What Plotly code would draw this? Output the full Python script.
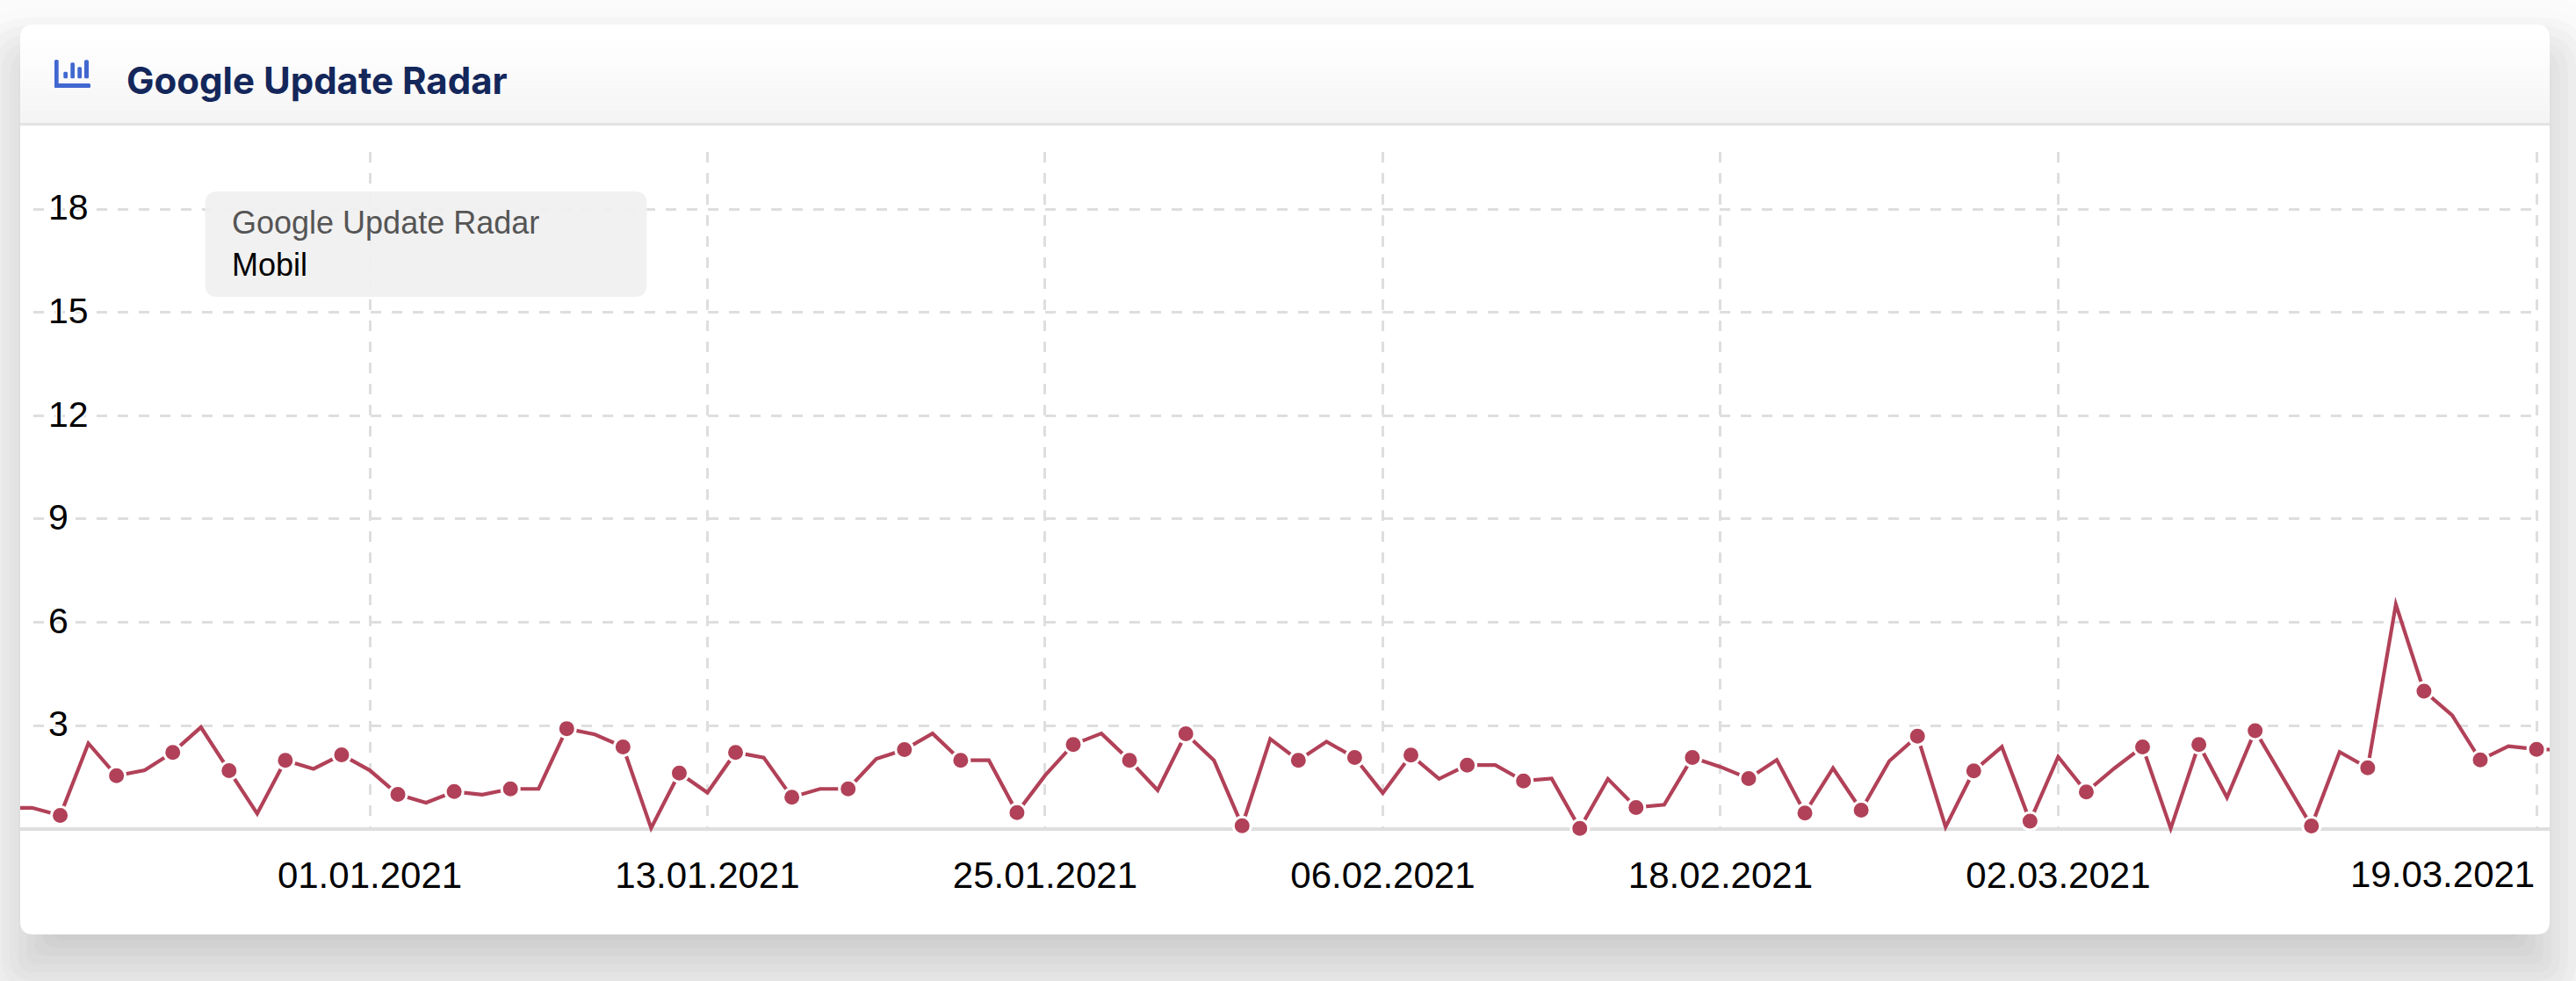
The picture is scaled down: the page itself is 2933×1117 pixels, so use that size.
import pandas as pd
import plotly.graph_objects as go

W, H = 2933, 1117

title_text = "Google Update Radar"
series_name = "Mobil"
start_date = "2020-12-19"
values = [
    0.61, 0.61, 0.39, 2.48, 1.54, 1.70, 2.22, 2.95, 1.69, 0.44, 1.99, 1.74, 2.15,
    1.70, 1.00, 0.76, 1.08, 0.99, 1.16, 1.16, 2.91, 2.74, 2.38, 0.02, 1.62, 1.05,
    2.22, 2.07, 0.92, 1.16, 1.16, 2.03, 2.30, 2.77, 1.99, 1.99, 0.47, 1.55, 2.45,
    2.77, 1.99, 1.12, 2.76, 1.99, 0.09, 2.61, 1.99, 2.53, 2.07, 1.04, 2.14, 1.45,
    1.85, 1.85, 1.39, 1.46, 0.01, 1.45, 0.62, 0.70, 2.07, 1.80, 1.46, 2.00, 0.46,
    1.76, 0.54, 1.97, 2.69, 0.05, 1.68, 2.38, 0.22, 2.09, 1.07, 1.76, 2.38, 0.01,
    2.45, 0.91, 2.85, 1.46, 0.08, 2.23, 1.77, 6.52, 4.00, 3.30, 2.00, 2.40, 2.31,
    2.29,
]
x_tick_dates = ["2021-01-01", "2021-01-13", "2021-01-25", "2021-02-06",
                "2021-02-18", "2021-03-02", "2021-03-19"]
x_tick_labels = ["01.01.2021", "13.01.2021", "25.01.2021", "06.02.2021",
                 "18.02.2021", "02.03.2021", "19.03.2021"]
y_ticks = [3, 6, 9, 12, 15, 18]

dates = pd.date_range(start_date, periods=len(values))

LINE = "#b14158"
GRID = "#dedede"

# pixel helpers (margins are zero so paper coordinates cover the full figure)
def fx(p):
    return p / W
def fy(p):
    return 1 - p / H

# axis calibration
JAN1_PX, DAY_PX = 421.0, 32.04
ZERO_PX, UNIT_PX = 943.7, 39.2
def date_at(p):
    return pd.Timestamp("2021-01-01") + pd.Timedelta(days=(p - JAN1_PX) / DAY_PX)
def val_at(p):
    return (ZERO_PX - p) / UNIT_PX

def rrect(x0, y0, x1, y1, r):
    X0, X1, Y0, Y1 = fx(x0), fx(x1), fy(y0), fy(y1)
    rx, ry = r / W, r / H
    return (f"M{X0+rx},{Y0} L{X1-rx},{Y0} Q{X1},{Y0} {X1},{Y0-ry} "
            f"L{X1},{Y1+ry} Q{X1},{Y1} {X1-rx},{Y1} L{X0+rx},{Y1} "
            f"Q{X0},{Y1} {X0},{Y1+ry} L{X0},{Y0-ry} Q{X0},{Y0} {X0+rx},{Y0} Z")

shapes = []
CARD = (23, 28, 2903, 1064)

# soft drop shadow built from nested translucent rounded boxes
def shadow(dy, spread, sigma, alpha, steps=16):
    for i in range(steps):
        d = sigma * (2.2 - 4.4 * i / (steps - 1))
        grow = spread + d
        x0, y0, x1, y1 = CARD
        shapes.append(dict(
            type="path", xref="paper", yref="paper", layer="below",
            path=rrect(x0 - grow, y0 - grow + dy, x1 + grow, y1 + grow + dy, max(15, 15 + grow)),
            fillcolor=f"rgba(0,0,0,{alpha/steps:.5f})", line=dict(width=0),
        ))
shadow(41, -21, 32, 0.24)
shadow(30, 0, 48, 0.08)

# card
shapes.append(dict(type="path", xref="paper", yref="paper", layer="below",
                   path=rrect(*CARD, 15), fillcolor="#ffffff", line=dict(width=0)))
# header gradient
n = 24
for i in range(n):
    t = (i + 0.5) / n
    c = int(round(255 - 11 * t))
    y0 = 43 + (140 - 43) * i / n
    y1 = 43 + (140 - 43) * (i + 1) / n
    shapes.append(dict(type="rect", xref="paper", yref="paper", layer="below",
                       x0=fx(23), x1=fx(2903), y0=fy(y0), y1=fy(y1),
                       fillcolor=f"rgb({c},{c},{c})", line=dict(width=0)))
shapes.append(dict(type="rect", xref="paper", yref="paper", layer="below",
                   x0=fx(23), x1=fx(2903), y0=fy(140), y1=fy(143),
                   fillcolor="#e3e3e3", line=dict(width=0)))
# header icon
ICON = "#4168d0"
for (a, b, c, d) in [(62, 68, 66.7, 100), (62, 95, 103, 100), (72.3, 81.7, 77, 89.3),
                     (80.3, 71.3, 85, 89.3), (88.3, 76.3, 93, 89.3), (96, 68.3, 101, 89.3)]:
    shapes.append(dict(type="path", xref="paper", yref="paper", layer="below",
                       path=rrect(a, b, c, d, 1.5), fillcolor=ICON, line=dict(width=0)))
# legend box (semi-transparent, above grid)
shapes.append(dict(type="path", xref="paper", yref="paper", layer="above",
                   path=rrect(233.6, 218, 736.5, 338, 14),
                   fillcolor="rgba(240,240,240,0.93)", line=dict(width=0)))

halo = ", ".join(["#ffffff 0 0 3px"] * 10)

fig = go.Figure()
# invisible carrier keeps the gridded axes active
fig.add_trace(go.Scatter(x=dates, y=values, mode="lines", line=dict(color="rgba(0,0,0,0)", width=0),
                         xaxis="x", yaxis="y", showlegend=False, hoverinfo="skip"))
fig.add_trace(go.Scatter(x=dates, y=values, mode="lines", name=series_name,
                         line=dict(color=LINE, width=4.2), xaxis="x2", yaxis="y2", showlegend=False))
fig.add_trace(go.Scatter(x=dates[2::2], y=values[2::2], mode="markers", name=series_name,
                         marker=dict(color=LINE, size=20, line=dict(color="#ffffff", width=3)),
                         xaxis="x2", yaxis="y2", showlegend=False))

fig.update_layout(
    width=W, height=H, margin=dict(l=0, r=0, t=0, b=0), autosize=False,
    paper_bgcolor="#ffffff", plot_bgcolor="rgba(0,0,0,0)",
    font=dict(family="Liberation Sans, Arial, sans-serif", color="#000000"),
    shapes=shapes,
    xaxis=dict(type="date", domain=[fx(38), fx(2890)], range=[date_at(38), date_at(2890)],
               anchor="y", tickmode="array", tickvals=x_tick_dates,
               ticktext=x_tick_labels[:-1] + [""], showgrid=True, gridcolor=GRID, griddash="12px,12px",
               gridwidth=3, showline=False, zeroline=False, ticks="", ticklabelstandoff=24,
               tickfont=dict(size=42, color="#000000"), ticklabeloverflow="allow"),
    yaxis=dict(domain=[fy(ZERO_PX), fy(173)], range=[0, val_at(173)], anchor="x",
               tickmode="array", tickvals=y_ticks, showgrid=True, gridcolor=GRID,
               griddash="12px,12px", gridwidth=3.4, zeroline=False, showline=False, ticks="",
               ticklabelposition="inside", ticklabelstandoff=14, ticklabelshift=-2,
               tickfont=dict(size=41, color="#000000", shadow=halo)),
    xaxis2=dict(type="date", domain=[fx(23), fx(2903)], range=[date_at(23), date_at(2903)],
                anchor="y2", showgrid=False, zeroline=False, showline=False, showticklabels=False, ticks=""),
    yaxis2=dict(domain=[fy(1040), fy(150)], range=[val_at(1040), val_at(150)], anchor="x2",
                showgrid=False, showticklabels=False, ticks="", showline=False,
                zeroline=True, zerolinecolor=GRID, zerolinewidth=3.5),
    annotations=[
        dict(text=title_text, xref="paper", yref="paper", x=fx(142), y=fy(91), xanchor="left", yanchor="middle",
             showarrow=False, font=dict(family="Inter, sans-serif", size=42, weight=700, color="#14275b")),
        dict(text=title_text, xref="paper", yref="paper", x=fx(262), y=fy(253), xanchor="left", yanchor="middle",
             showarrow=False, font=dict(size=36, color="#555555")),
        dict(text=series_name, xref="paper", yref="paper", x=fx(262), y=fy(302), xanchor="left", yanchor="middle",
             showarrow=False, font=dict(size=36, color="#000000")),
        dict(text=x_tick_labels[-1], xref="x", yref="paper", x=x_tick_dates[-1], xshift=0, y=fy(995),
             xanchor="right", yanchor="middle", showarrow=False, font=dict(size=42, color="#000000")),
    ],
)

fig.write_html(
    "out.html",
    config={"displayModeBar": False},
    post_script=(
        "document.documentElement.style.margin='0';document.body.style.margin='0';"
        "document.body.style.overflow='hidden';"
        "document.querySelectorAll('.js-line').forEach(function(e){e.style.strokeMiterlimit='10';e.style.strokeLinejoin='miter';});"
    ),
)
